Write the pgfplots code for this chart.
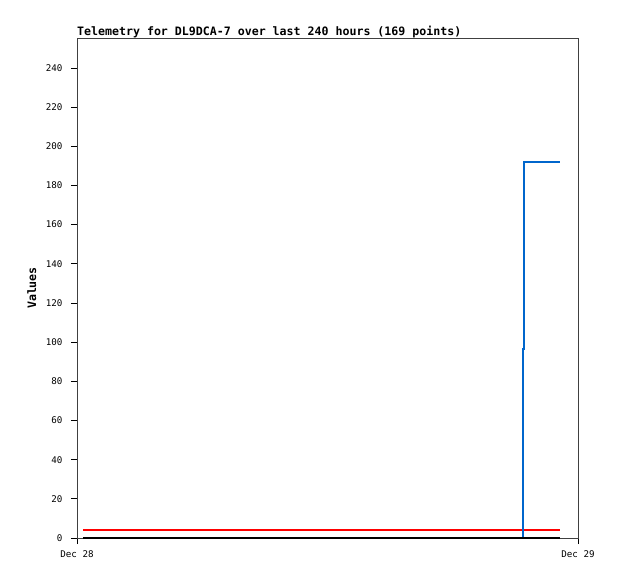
\documentclass[border=0pt]{standalone}
\usepackage{fontspec}
\setmainfont{DejaVu Sans Mono}
\usepackage{pgfplots}
\pgfplotsset{compat=1.18}
\definecolor{tblue}{RGB}{0,102,204}
\definecolor{tred}{RGB}{255,0,0}
\begin{document}
\begin{tikzpicture}[x=1pt,y=1pt]
\path[use as bounding box] (0,0) rectangle (618,579);
\begin{axis}[
  at={(77pt,41pt)}, anchor=south west,
  scale only axis, width=501pt, height=500pt,
  xmin=0, xmax=24, ymin=0, ymax=255.3,
  xtick={0,24}, xticklabels={Dec 28,Dec 29},
  ytick={0,20,...,240},
  tick pos=left, tick align=outside, major tick length=6pt,
  minor tick num=0,
  axis line style={black!75},
  tick style={black, line width=0.8pt},
  /pgf/number format/assume math mode=true,
  ticklabel style={font=\fontsize{9.2}{10}\selectfont},
  yticklabel style={xshift=-5pt},
  xticklabel style={yshift=-3pt},
  title={\textbf{Telemetry for DL9DCA-7 over last 240 hours (169 points)}},
  title style={at={(rel axis cs:0,1)}, anchor=base west, yshift=-4pt, inner sep=0pt, font=\fontsize{11.6}{12}\selectfont},
  ylabel={\textbf{Values}},
  ylabel style={at={(axis description cs:-0.09,0.5)}, rotate=0, anchor=center, font=\fontsize{11.6}{12}\selectfont},
  clip=false,
]
\addplot[tred, line width=2pt] coordinates {(0.29,4) (23.14,4)};
\addplot[tblue, line width=2pt] coordinates {(0.29,0) (21.37,0) (21.37,96.4) (21.42,96.4) (21.42,192.2) (23.14,192.2)};
\addplot[black, line width=2pt] coordinates {(0.29,0) (23.14,0)};
\end{axis}
\end{tikzpicture}
\end{document}
